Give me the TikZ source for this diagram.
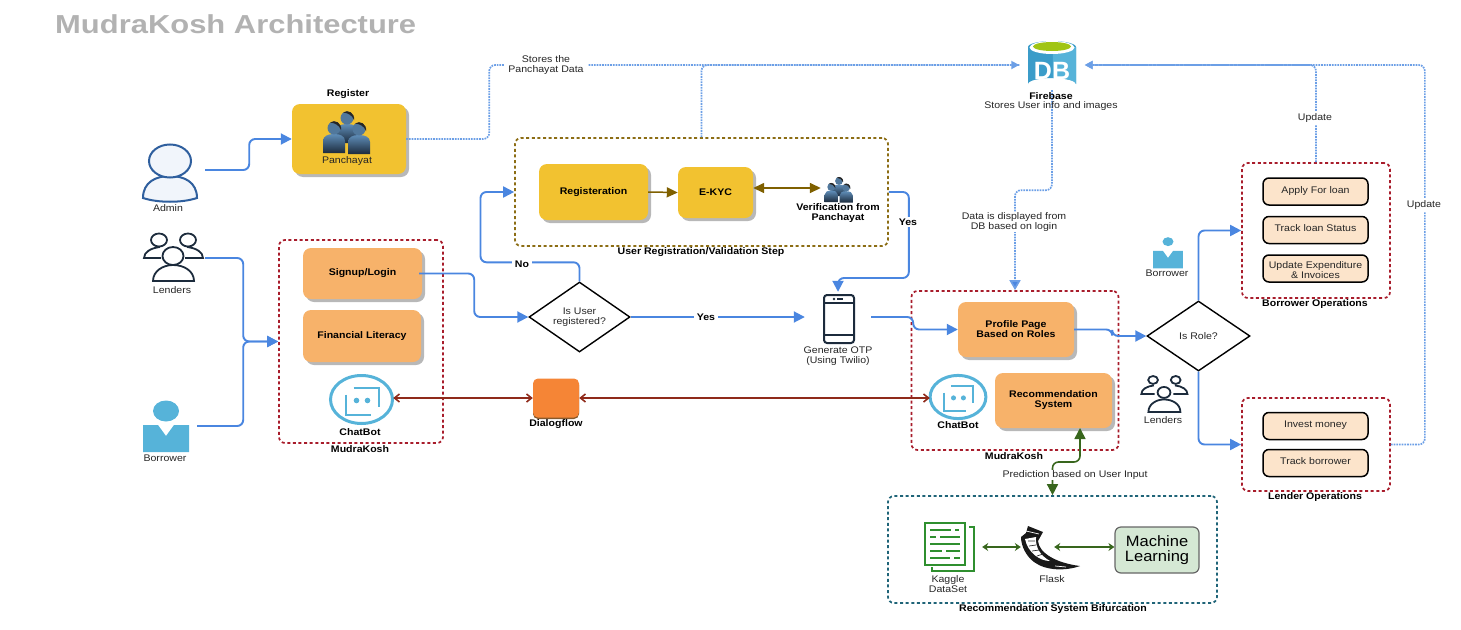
\documentclass[tikz,border=0pt]{standalone}
\usepackage{fontspec}
\setmainfont[FakeStretch=1.1]{Liberation Sans}
\newfontfamily\titlefont[FakeStretch=1.19]{Liberation Sans}
\newfontfamily\dbfont{Liberation Sans}
\usetikzlibrary{arrows.meta,calc,shadows,shapes.geometric}

\definecolor{linkblue}{HTML}{4A86E0}
\definecolor{dotblue}{HTML}{6C9FE6}
\definecolor{panelyellow}{HTML}{F2C230}
\definecolor{panelorange}{HTML}{F7B26A}
\definecolor{opcream}{HTML}{FCE4CB}
\definecolor{boxred}{HTML}{A81C2B}
\definecolor{boxbrown}{HTML}{8C6D14}
\definecolor{boxteal}{HTML}{1F6478}
\definecolor{redlink}{HTML}{8F2A1A}
\definecolor{brownlink}{HTML}{7F6000}
\definecolor{greenlink}{HTML}{38661D}
\definecolor{iconsky}{HTML}{56B3D9}
\definecolor{icondark}{HTML}{1C2B3C}
\definecolor{dbblue}{HTML}{3B9CC9}
\definecolor{dbgreen}{HTML}{A0C515}
\definecolor{adminblue}{HTML}{2F5F9E}
\definecolor{adminfill}{HTML}{F1F5FB}
\definecolor{folkblue}{HTML}{5F8DB8}
\definecolor{dialogorange}{HTML}{F58536}
\definecolor{kagglegreen}{HTML}{2F8F2F}
\definecolor{mlgreen}{HTML}{D5E8D4}

\newcommand{\panchperson}[2]{
  \begin{scope}[shift={(#1,#2)}]
    \path[top color=folkblue,bottom color=icondark]
      (-11,25) -- (-11,13) .. controls (-11,8) and (-6,6) .. (0,6)
      .. controls (6,6) and (11,8) .. (11,13) -- (11,25) -- cycle;
    \fill[folkblue!85!black] (0,0) circle (6.5);
    \fill[black!85] (-4,-5.5) .. controls (1,-9) and (8,-5) .. (7,2) .. controls (5,-3) and (1,-5) .. (-4,-5.5) -- cycle;
  \end{scope}
}

\tikzset{
  >={Straight Barb[length=5pt,width=8pt]},
  plain/.style={font=\fontsize{9.6}{10}\selectfont,inner sep=0pt,align=center,text=black!85},
  strong/.style={plain,font=\fontsize{9.6}{10}\selectfont\bfseries,text=black},
  panel/.style={rectangle,rounded corners=8pt,inner sep=0pt,strong,
    drop shadow={opacity=1,fill=black!28,shadow xshift=3pt,shadow yshift=-3pt}},
  yellowpanel/.style={panel,fill=panelyellow},
  orangepanel/.style={panel,fill=panelorange},
  opbox/.style={plain,rectangle,rounded corners=6pt,draw=black,line width=1.5pt,fill=opcream,
    minimum width=105pt,minimum height=27pt},
  opsingle/.style={text height=7pt,text depth=4pt},
  groupbox/.style={rectangle,rounded corners=6pt,inner sep=0pt,line width=1.7pt,dash pattern=on 3pt off 2.6pt},
  spot/.style={rectangle,inner sep=0pt},
  decision/.style={plain,draw=black,line width=1.4pt,
    shape=diamond,aspect=1.45,inner sep=0pt},
  bluelink/.style={draw=linkblue,line width=1.9pt,rounded corners=6pt,-{Triangle[length=11pt,width=11pt]}},
  dotlink/.style={draw=dotblue,line width=1.7pt,densely dotted,rounded corners=6pt,
    -{Triangle[length=8pt,width=8pt,fill=dotblue,sep=0pt]}},
  dotdrop/.style={dotlink,-{Triangle[length=10pt,width=11pt,fill=linkblue,sep=0pt]}},
  dotline/.style={draw=dotblue,line width=1.7pt,densely dotted,rounded corners=6pt},
  redboth/.style={draw=redlink,line width=1.6pt,<->},
  brownlinkstyle/.style={draw=brownlink,line width=1.5pt,-{Triangle[length=11pt,width=10pt]}},
  greenboth/.style={draw=greenlink,line width=1.5pt,{Stealth[length=6pt,width=8pt]}-{Stealth[length=6pt,width=8pt]}},
  pics/adminicon/.style={code={
    \draw[draw=adminblue,fill=adminfill,line width=2pt]
      (-27,26) .. controls (-27,10) and (-14,4) .. (0,4) .. controls (14,4) and (27,10) .. (27,26)
      .. controls (12,31) and (-12,31) .. (-27,26) -- cycle;
    \draw[draw=adminblue,fill=adminfill,line width=2pt] (0,-11) ellipse (21pt and 16.5pt);
  }},
  pics/lendericon/.style={code={
    \draw[icondark,line width=1.8pt] (-14,-18) ellipse (#1*8pt and #1*6.5pt);
    \draw[icondark,line width=1.8pt] (15,-18) ellipse (#1*8pt and #1*6.5pt);
    \draw[icondark,line width=1.8pt] (-13,-11) .. controls (-22,-10) and (-29,-6) .. (-29,0) -- (-12,0);
    \draw[icondark,line width=1.8pt] (14,-11) .. controls (23,-10) and (30,-6) .. (30,0) -- (12,0);
    \draw[icondark,fill=white,line width=1.8pt] (-20,23) .. controls (-20,13) and (-10,7) .. (0,7)
      .. controls (11,7) and (21,13) .. (21,23) -- cycle;
    \draw[icondark,fill=white,line width=1.8pt] (0,-2) ellipse (#1*10.5pt and #1*9pt);
  }},
  pics/borrowericon/.style={code={
    \fill[iconsky] (0,-19) ellipse (#1*13pt and #1*10.5pt);
    \fill[iconsky] (-23,-5) -- (-8,-5) -- (0,6) -- (8,-5) -- (23,-5) -- (23,22) -- (-23,22) -- cycle;
  }},
  pics/panchgroup/.style={code={
    \panchperson{0}{-15}
    \panchperson{-13}{-5}
    \panchperson{12}{-4}
  }},
  pics/boticon/.style={code={
    \draw[iconsky,line width=3pt] (0,0) ellipse (#1*31pt and #1*24pt);
    \draw[iconsky,line width=2pt] (#1*-8,#1*-12) -- (#1*17,#1*-12) -- (#1*17,#1*7);
    \draw[iconsky,line width=2pt] (#1*-16,#1*-5) -- (#1*-16,#1*15) -- (#1*9,#1*15);
    \fill[iconsky] (#1*-5,#1*1) circle (#1*2.8pt);
    \fill[iconsky] (#1*6,#1*1) circle (#1*2.8pt);
  }},
}

\begin{document}
\begin{tikzpicture}[x=1pt,y=-1pt]
  \useasboundingbox (0,0) rectangle (1461,629);

  \node[font=\titlefont\fontsize{26}{28}\selectfont\bfseries,text=black!30,inner sep=0pt,anchor=west] (title) at (55,24) {MudraKosh Architecture};

  % Actors on the left
  \node[spot,minimum width=70pt,minimum height=58pt] (admin) at (170,170) {};
  \pic at (170,172) {adminicon};
  \node[plain] (adminlabel) at (168,208) {Admin};
  \node[spot,minimum width=64pt,minimum height=46pt] (lenders) at (173,258) {};
  \pic at (173,258) {lendericon=1};
  \node[plain] (lenderslabel) at (172,290) {Lenders};
  \node[spot,minimum width=62pt,minimum height=46pt] (borrower) at (166,426) {};
  \pic at (166,430) {borrowericon=1};
  \node[plain] (borrowerlabel) at (165,458) {Borrower};

  % Panchayat
  \node[strong] (registerlabel) at (348,94) {Register};
  \node[yellowpanel,minimum width=114pt,minimum height=70pt] (panchayat) at (349,139) {};
  \pic at (347,133) {panchgroup};
  \node[plain] (panchayatlabel) at (347,161) {Panchayat};

  % Firebase
  \node[spot,minimum width=65pt,minimum height=50pt] (db) at (1052,65) {};
  \fill[dbblue] (1028,47) arc[start angle=180,end angle=0,x radius=24pt,y radius=6pt] -- (1076,84)
    arc[start angle=0,end angle=180,x radius=24pt,y radius=6pt] -- cycle;
  \fill[iconsky] (1053,52) -- (1076,47) -- (1076,84) arc[start angle=0,end angle=88,x radius=24pt,y radius=6pt] -- cycle;
  \fill[white] (1052,47.5) ellipse (22.5pt and 6.5pt);
  \fill[dbgreen] (1052,46.5) ellipse (19pt and 4.5pt);
  \node[font=\dbfont\fontsize{25}{25}\selectfont\bfseries,text=white,inner sep=0pt] (dbtext) at (1052,70.5) {DB};

  % User registration step
  \node[groupbox,draw=boxbrown,minimum width=373pt,minimum height=108pt] (regbox) at (701.5,192) {};
  \node[strong] (regboxlabel) at (701,252) {User Registration/Validation Step};
  \node[yellowpanel,minimum width=109pt,minimum height=56pt] (registration) at (593.5,192) {Registeration};
  \node[yellowpanel,minimum width=75pt,minimum height=51pt] (ekyc) at (715.5,192.5) {E-KYC};
  \node[spot,minimum width=36pt,minimum height=26pt] (verify) at (839,188) {};
  \pic[scale=0.6] at (839,190) {panchgroup};
  \node[strong] (verifylabel) at (838,213) {Verification from\\Panchayat};

  % Left MudraKosh block
  \node[groupbox,draw=boxred,minimum width=164pt,minimum height=203pt] (mudraleft) at (361,341.5) {};
  \node[strong] (mudraleftlabel) at (360,449) {MudraKosh};
  \node[orangepanel,minimum width=119pt,minimum height=51pt] (signup) at (362.5,273.5) {Signup/Login};
  \node[orangepanel,minimum width=118pt,minimum height=52pt] (literacy) at (362,336) {Financial Literacy};
  \node[spot,minimum width=63pt,minimum height=48pt] (botleft) at (361.5,398) {};
  \pic at (361.5,399.5) {boticon=1};
  \node[strong] (botleftlabel) at (360,432) {ChatBot};

  % Decision and OTP
  \node[decision,minimum width=101pt,minimum height=70pt] (isuser) at (579.5,317) {Is User\\registered?};
  \node[spot,minimum width=66pt,minimum height=50pt] (phone) at (838,317) {};
  \draw[icondark,line width=2pt,rounded corners=3pt] (824,295) rectangle (854,343);
  \draw[icondark,line width=1.4pt] (824,303) -- (854,303) (824,335) -- (854,335);
  \fill[icondark] (834,299) circle (1.4pt);
  \draw[icondark,line width=1.2pt] (837,299) -- (843,299);
  \node[plain] (phonelabel) at (838,356) {Generate OTP\\(Using Twilio)};

  % Dialogflow
  \node[spot,rounded corners=5pt,fill=dialogorange,minimum width=46pt,minimum height=39pt,
    drop shadow={opacity=1,fill=brown!70!black,shadow xshift=0pt,shadow yshift=-1.5pt}] (dialog) at (556,398) {};
  \node[strong] (dialoglabel) at (556,424) {Dialogflow};

  % Right MudraKosh block
  \node[groupbox,draw=boxred,minimum width=207pt,minimum height=159pt] (mudraright) at (1015,370.5) {};
  \node[strong] (mudrarightlabel) at (1014,456) {MudraKosh};
  \node[orangepanel,minimum width=116pt,minimum height=55pt,text depth=0pt] (profile) at (1016,329.5) {Profile Page\\Based on Roles};
  \node[orangepanel,minimum width=117pt,minimum height=55pt] (recsys) at (1053.5,400.5) {Recommendation\\System};
  \node[spot,minimum width=56pt,minimum height=46pt] (botright) at (958,397) {};
  \pic at (958,397) {boticon=0.9};
  \node[strong] (botrightlabel) at (958,425) {ChatBot};

  % Role decision
  \node[decision,minimum width=103pt,minimum height=70pt] (isrole) at (1198.5,336) {Is Role?};
  \pic[scale=0.65] at (1168,254) {borrowericon=0.65};
  \node[plain] (rightborrowerlabel) at (1167,273) {Borrower};
  \pic[scale=0.78] at (1164,394) {lendericon=0.78};
  \node[plain] (rightlenderslabel) at (1163,420) {Lenders};

  % Borrower and lender operations
  \node[groupbox,draw=boxred,minimum width=148pt,minimum height=135pt] (borrowops) at (1316,230.5) {};
  \node[strong] (borrowopslabel) at (1315,304) {Borrower Operations};
  \foreach \name/\y/\txt in {applyloan/191.5/{Apply For loan},trackloan/230/{Track loan Status}} {
    \node[opbox,opsingle] (\name) at (1315.5,\y) {\txt};
  }
  \node[opbox] (expenses) at (1315.5,268.5) {};
  \node[plain] (expenseslabel) at (1315.5,270) {Update Expenditure\\\& Invoices};
  \node[groupbox,draw=boxred,minimum width=148pt,minimum height=93pt] (lendops) at (1316,444.5) {};
  \node[strong] (lendopslabel) at (1315,497) {Lender Operations};
  \foreach \name/\y/\txt in {invest/426/{Invest money},trackborrow/463/{Track borrower}} {
    \node[opbox,opsingle] (\name) at (1315.5,\y) {\txt};
  }

  % Recommendation system bifurcation
  \node[groupbox,draw=boxteal,minimum width=329pt,minimum height=107pt] (bifbox) at (1052.5,549.5) {};
  \node[strong] (bifboxlabel) at (1053,609) {Recommendation System Bifurcation};
  \node[spot,minimum width=49pt,minimum height=48pt] (kaggle) at (949.5,547) {};
  \draw[kagglegreen,line width=1.7pt] (925,523) rectangle (965,565);
  \draw[kagglegreen,line width=1.7pt] (969,527) -- (974,527) -- (974,571) -- (932,571) -- (932,567);
  \foreach \y/\xa/\xb in {530/930/951,530/955/959,537/930/936,537/940/960,544/930/960,551/930/942,551/946/960,558/930/950,558/954/960} {
    \draw[kagglegreen,line width=1.5pt] (\xa,\y) -- (\xb,\y);
  }
  \node[plain] (kagglelabel) at (948,584) {Kaggle\\DataSet};
  \node[spot,minimum width=33pt,minimum height=44pt] (flask) at (1037.5,547) {};
  % Horn, with a speckled inside
  \fill[black!90] (1028,526) -- (1043,532) -- (1038,541) .. controls (1039,553) and (1056,563) .. (1080,566)
    .. controls (1066,571) and (1046,571) .. (1034,562)
    .. controls (1026,556) and (1021,546) .. (1021,537) -- (1026,533) -- cycle;
  \fill[white] (1025,539) -- (1036,537) .. controls (1035,548) and (1041,556) .. (1050,561)
    .. controls (1040,561) and (1028,553) .. (1025,539) -- cycle;
  \draw[black!80,line width=0.7pt] (1028,541) -- (1035,541) (1029,546) -- (1036,545) (1032,551) -- (1039,550) (1037,556) -- (1043,554);
  \draw[white,line width=0.7pt] (1026,531) -- (1039,534) (1055,566) -- (1066,567);
  \node[plain] (flasklabel) at (1052,579) {Flask};
  \node[rectangle,rounded corners=6pt,draw=black!60,line width=1.2pt,fill=mlgreen,
    minimum width=84pt,minimum height=46pt,inner sep=0pt,align=center,
    font=\fontsize{15}{15.5}\selectfont] (mlbox) at (1157,550) {Machine\\Learning};

  % Blue connectors
  \draw[bluelink] (admin.east) -- ++(44,0) |- (panchayat.west);
  \draw[bluelink] (lenders.east) -- ++(38,0) |- (mudraleft.west);
  \draw[bluelink] (borrower.east) -- ++(46,0) |- (mudraleft.west);
  \draw[bluelink] ($(signup.east)+(-3,0)$) -- ++(55,0) |- (isuser.west);
  \draw[bluelink] (isuser.north) -- ++(0,-19) -- ++(-99,0) |- (regbox.west);
  \draw[bluelink] (isuser.east) -- (phone.west);
  \draw[bluelink] (regbox.east) -- ++(20,0) -- ++(0,86) -| (phone.north);
  \draw[bluelink] (phone.east) -- ++(42,0) |- (profile.west);
  \draw[bluelink] (profile.east) -- ++(38,0) |- (isrole.west);
  \draw[bluelink] (isrole.north) |- (borrowops.west);
  \draw[bluelink] (isrole.south) |- (lendops.west);
  \node[strong,fill=white,inner xsep=3pt,inner ysep=1pt] (nolabel) at (522,264) {No};
  \node[strong,fill=white,inner xsep=3pt,inner ysep=1pt] (yeslabel) at (706,317) {Yes};
  \node[strong,fill=white,inner xsep=2pt,inner ysep=2pt] (verifiedlabel) at (908,222) {Yes};

  % Dotted store and update links
  \draw[dotline] (panchayat.east) -- ++(83,0) |- (db.west);
  \draw[dotlink] (regbox.north) |- (db.west);
  \draw[dotdrop] (db.south) -- ++(0,100) -| (mudraright.north);
  \draw[dotlink] (borrowops.north) |- (db.east);
  \draw[dotlink] (lendops.east) -- ++(34,0) |- (db.east);
  \node[plain,fill=white,inner xsep=4pt,inner ysep=0pt] (storeslabel) at (546,65) {Stores the\\Panchayat Data};
  \node[plain,fill=white,inner sep=1pt] (displaylabel) at (1014,222) {Data is displayed from\\DB based on login};
  \node[plain,fill=white,inner xsep=1pt,inner ysep=3pt] (updateleft) at (1315,118) {Update};
  \node[plain,fill=white,inner xsep=1pt,inner ysep=3pt] (updateright) at (1424,205) {Update};
  \node[strong] (firebaselabel) at (1051,96) {Firebase};
  \node[plain] (firebasenote) at (1051,106) {Stores User info and images};

  % Brown links
  \draw[brownlinkstyle] (registration.east) -- (ekyc.west);
  \draw[draw=brownlink,line width=1.5pt,{Triangle[length=11pt,width=10pt]}-{Triangle[length=11pt,width=10pt]}] (ekyc.east |- verify.west) -- (verify.west);

  % Chatbot links through Dialogflow
  \draw[redboth] (botleft.east) -- (dialog.west);
  \draw[redboth] (dialog.east) -- (dialog.east -| botright.west);

  % Green links
  \coordinate (recin) at (1080,428);
  \draw[greenlink,line width=1.6pt,rounded corners=6pt,{Triangle[length=11pt,width=11pt]}-{Triangle[length=11pt,width=11pt]}] (recin) -- ++(0,34) -| (bifbox.north);
  \node[plain,fill=white,inner xsep=1pt,inner ysep=1pt] (predictlabel) at (1075,475) {Prediction based on User Input};
  \draw[greenboth] ($(kaggle.east)+(8,0)$) -- (flask.west |- kaggle.east);
  \draw[greenboth] (flask.east) -- (mlbox.west |- flask.east);
\end{tikzpicture}
\end{document}
